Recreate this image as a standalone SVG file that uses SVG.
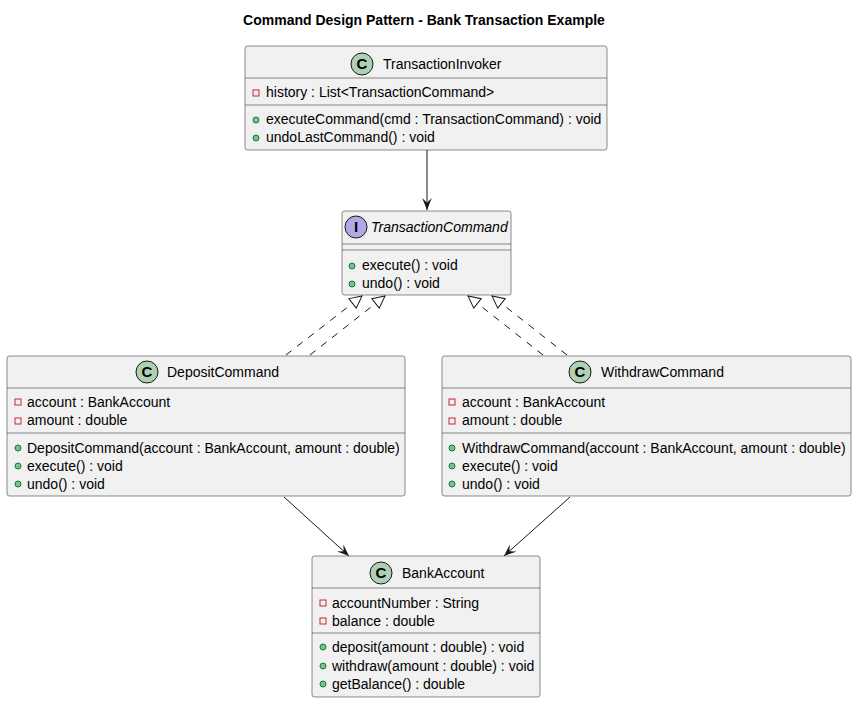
<svg xmlns="http://www.w3.org/2000/svg" width="857" height="703" viewBox="0 0 857 703">
<style>
text{font-family:"Liberation Sans",Arial,sans-serif;fill:#000}
.t{font-size:14px}
.m{font-size:14px}
.title{font-size:14px;font-weight:bold}
.box{fill:#F1F1F1;stroke:#181818;stroke-width:0.5}
.sep{stroke:#181818;stroke-width:0.5}
.cc{fill:#ADD1B2;stroke:#181818;stroke-width:1}
.ic{fill:#B4A7E5;stroke:#181818;stroke-width:1}
.ltr{font-size:15px;font-weight:bold;text-anchor:middle}
.priv{fill:none;stroke:#C82930;stroke-width:1}
.pub{fill:#84BE84;stroke:#038048;stroke-width:1}
.assoc{stroke:#181818;stroke-width:1;fill:none}
.real{stroke:#181818;stroke-width:1;fill:none;stroke-dasharray:7,7}
</style>
<defs>
<marker id="arr" markerUnits="userSpaceOnUse" markerWidth="12" markerHeight="10" viewBox="0 0 10 8" refX="10" refY="4" orient="auto">
<path d="M0,0 L10,4 L0,8 L4,4 Z" fill="#181818"/>
</marker>
<marker id="tri" markerUnits="userSpaceOnUse" markerWidth="14" markerHeight="14" viewBox="-1 -1 14 14" refX="12" refY="6" orient="auto">
<path d="M0,0 L12,6 L0,12 Z" fill="#FFFFFF" stroke="#181818" stroke-width="1"/>
</marker>
</defs>
<text class="title" x="424" y="25" text-anchor="middle">Command Design Pattern - Bank Transaction Example</text>

<g id="connectors">
<line class="assoc" x1="427" y1="150" x2="427" y2="210" marker-end="url(#arr)"/>
<line class="real" x1="286" y1="355" x2="362" y2="296" marker-end="url(#tri)"/>
<line class="real" x1="310" y1="355" x2="385" y2="296" marker-end="url(#tri)"/>
<line class="real" x1="543" y1="355" x2="468" y2="296" marker-end="url(#tri)"/>
<line class="real" x1="567" y1="355" x2="492" y2="296" marker-end="url(#tri)"/>
<line class="assoc" x1="284" y1="497" x2="349" y2="556" marker-end="url(#arr)"/>
<line class="assoc" x1="570" y1="497" x2="504" y2="556" marker-end="url(#arr)"/>
</g>

<g id="TransactionInvoker">
<rect class="box" x="245" y="46" width="362" height="104" rx="2.5"/>
<line class="sep" x1="245" y1="78" x2="607" y2="78"/>
<line class="sep" x1="245" y1="105" x2="607" y2="105"/>
<circle class="cc" cx="362" cy="64" r="11"/>
<text class="ltr" x="362" y="69">C</text>
<text class="t" x="383" y="69">TransactionInvoker</text>
<rect class="priv" x="253" y="90" width="6" height="6"/>
<text class="m" x="266" y="97">history : List&lt;TransactionCommand&gt;</text>
<circle class="pub" cx="256" cy="120" r="3"/>
<text class="m" x="266" y="124">executeCommand(cmd : TransactionCommand) : void</text>
<circle class="pub" cx="256" cy="138" r="3"/>
<text class="m" x="266" y="142">undoLastCommand() : void</text>
</g>

<g id="TransactionCommand">
<rect class="box" x="342" y="211" width="169" height="84" rx="2.5"/>
<line class="sep" x1="342" y1="244" x2="511" y2="244"/>
<line class="sep" x1="342" y1="250" x2="511" y2="250"/>
<circle class="ic" cx="356" cy="227" r="11"/>
<text class="ltr" x="356" y="232">I</text>
<text class="t" x="371" y="232" font-style="italic">TransactionCommand</text>
<circle class="pub" cx="352" cy="266" r="3"/>
<text class="m" x="362" y="270">execute() : void</text>
<circle class="pub" cx="352" cy="284" r="3"/>
<text class="m" x="362" y="288">undo() : void</text>
</g>

<g id="DepositCommand">
<rect class="box" x="7" y="356" width="398" height="140" rx="2.5"/>
<line class="sep" x1="7" y1="388" x2="405" y2="388"/>
<line class="sep" x1="7" y1="433" x2="405" y2="433"/>
<circle class="cc" cx="147" cy="372" r="11"/>
<text class="ltr" x="147" y="377">C</text>
<text class="t" x="167" y="377">DepositCommand</text>
<rect class="priv" x="15" y="399" width="6" height="6"/>
<text class="m" x="27" y="407">account : BankAccount</text>
<rect class="priv" x="15" y="418" width="6" height="6"/>
<text class="m" x="27" y="425">amount : double</text>
<circle class="pub" cx="18" cy="448" r="3"/>
<text class="m" x="27" y="453">DepositCommand(account : BankAccount, amount : double)</text>
<circle class="pub" cx="18" cy="466" r="3"/>
<text class="m" x="27" y="471">execute() : void</text>
<circle class="pub" cx="18" cy="484" r="3"/>
<text class="m" x="27" y="489">undo() : void</text>
</g>

<g id="WithdrawCommand">
<rect class="box" x="442" y="356" width="409" height="140" rx="2.5"/>
<line class="sep" x1="442" y1="388" x2="851" y2="388"/>
<line class="sep" x1="442" y1="433" x2="851" y2="433"/>
<circle class="cc" cx="580" cy="372" r="11"/>
<text class="ltr" x="580" y="377">C</text>
<text class="t" x="601" y="377">WithdrawCommand</text>
<rect class="priv" x="449" y="399" width="6" height="6"/>
<text class="m" x="462" y="407">account : BankAccount</text>
<rect class="priv" x="449" y="418" width="6" height="6"/>
<text class="m" x="462" y="425">amount : double</text>
<circle class="pub" cx="452" cy="448" r="3"/>
<text class="m" x="462" y="453">WithdrawCommand(account : BankAccount, amount : double)</text>
<circle class="pub" cx="452" cy="466" r="3"/>
<text class="m" x="462" y="471">execute() : void</text>
<circle class="pub" cx="452" cy="484" r="3"/>
<text class="m" x="462" y="489">undo() : void</text>
</g>

<g id="BankAccount">
<rect class="box" x="312" y="556" width="228" height="141" rx="2.5"/>
<line class="sep" x1="312" y1="588" x2="540" y2="588"/>
<line class="sep" x1="312" y1="633" x2="540" y2="633"/>
<circle class="cc" cx="381" cy="573" r="11"/>
<text class="ltr" x="381" y="578">C</text>
<text class="t" x="402" y="578">BankAccount</text>
<rect class="priv" x="320" y="600" width="6" height="6"/>
<text class="m" x="332" y="608">accountNumber : String</text>
<rect class="priv" x="320" y="618" width="6" height="6"/>
<text class="m" x="332" y="626">balance : double</text>
<circle class="pub" cx="323" cy="647" r="3"/>
<text class="m" x="332" y="652">deposit(amount : double) : void</text>
<circle class="pub" cx="323" cy="666" r="3"/>
<text class="m" x="332" y="671">withdraw(amount : double) : void</text>
<circle class="pub" cx="323" cy="684" r="3"/>
<text class="m" x="332" y="689">getBalance() : double</text>
</g>
</svg>
